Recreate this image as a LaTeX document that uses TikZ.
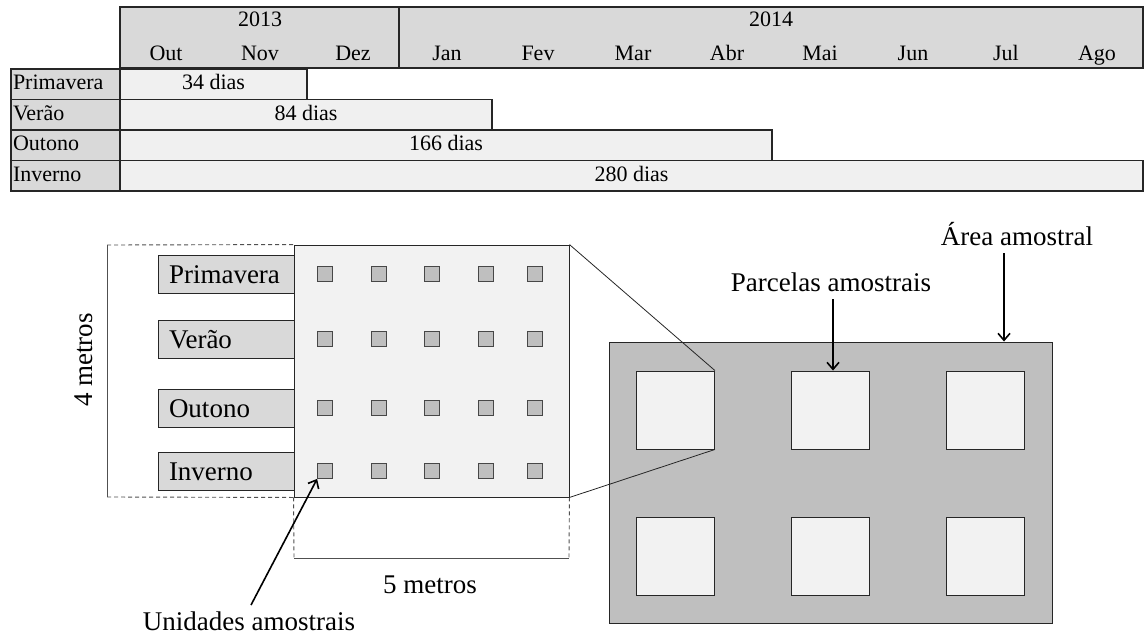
\documentclass[tikz,border=0pt]{standalone}
\usepackage{fontspec}
\setmainfont{Liberation Serif}
\usetikzlibrary{arrows.meta}
\definecolor{hdrgray}{HTML}{D9D9D9}
\definecolor{barfill}{HTML}{F0F0F0}
\definecolor{lightfill}{HTML}{F2F2F2}
\definecolor{midgray}{HTML}{BFBFBF}
\definecolor{linec}{HTML}{262626}
\definecolor{dashc}{HTML}{505050}
\newcommand\tblfnt{\fontsize{22}{26}\selectfont}
\newcommand\bigfnt{\fontsize{27}{32}\selectfont}
\begin{document}
\begin{tikzpicture}[x=1pt,y=-1pt,
  tline/.style={draw=linec,line width=1.3pt},
  hdrbox/.style={tline,fill=hdrgray,minimum width=1023pt,minimum height=61pt,inner sep=0pt},
  lblcell/.style={tline,fill=hdrgray,minimum width=109pt,minimum height=30.5pt,inner xsep=2pt,inner ysep=0pt,text width=105pt,align=left,font=\tblfnt,text height=14pt,text depth=3pt},
  barcell/.style={tline,fill=barfill,minimum height=30.5pt,inner sep=0pt,font=\tblfnt,text height=14pt,text depth=3pt},
  tcap/.style={font=\tblfnt,anchor=base,inner sep=0pt},
  seasonbox/.style={draw=linec,line width=0.9pt,fill=hdrgray,minimum width=136pt,minimum height=38pt,inner xsep=11pt,inner ysep=0pt,text width=114pt,align=left,font=\bigfnt,text height=18pt,text depth=0pt},
  zoombox/.style={draw=linec,line width=0.9pt,fill=lightfill,minimum width=275pt,minimum height=252pt,inner sep=0pt},
  unitsq/.style={draw=linec!85,line width=0.8pt,fill=midgray,minimum size=15pt,inner sep=0pt},
  areabox/.style={draw=linec,line width=0.9pt,fill=midgray,minimum width=443pt,minimum height=281pt,inner sep=0pt},
  plotsq/.style={draw=linec,line width=0.9pt,fill=lightfill,minimum width=78pt,minimum height=78pt,inner sep=0pt},
  bigtxt/.style={font=\bigfnt,anchor=base,inner sep=0pt},
  dashln/.style={draw=dashc,line width=0.9pt,dash pattern=on 4pt off 3pt},
  thinln/.style={draw=dashc,line width=0.9pt},
  zoomln/.style={draw=linec,line width=0.8pt},
  arr/.style={draw=black,line width=1.6pt,-{Straight Barb[length=7pt,width=12pt,line width=1.6pt]}}
]
\useasboundingbox (0,0) rectangle (1145,637);

% ---------- timeline table ----------
\node[hdrbox] (hdr) at (631.5,37.5) {};
\coordinate (ydivT) at (399,7);
\coordinate (ydivB) at (399,68);
\draw[tline] (ydivT) -- (ydivB);
\node[tcap] (y13) at (260,27) {2013};
\node[tcap] (y14) at (771,27) {2014};
\node[tcap] (mOut) at (166,60) {Out};
\node[tcap] (mNov) at (260,60) {Nov};
\node[tcap] (mDez) at (353,60) {Dez};
\node[tcap] (mJan) at (447,60) {Jan};
\node[tcap] (mFev) at (538,60) {Fev};
\node[tcap] (mMar) at (633,60) {Mar};
\node[tcap] (mAbr) at (727,60) {Abr};
\node[tcap] (mMai) at (820,60) {Mai};
\node[tcap] (mJun) at (913,60) {Jun};
\node[tcap] (mJul) at (1006,60) {Jul};
\node[tcap] (mAgo) at (1097,60) {Ago};

\node[lblcell] (lPri) at (65.5,84.25) {Primavera};
\node[barcell,minimum width=187pt] (bPri) at (213.5,84.25) {34 dias};
\node[lblcell] (lVer) at (65.5,114.75) {Verão};
\node[barcell,minimum width=372pt] (bVer) at (306,114.75) {84 dias};
\node[lblcell] (lOut) at (65.5,145.25) {Outono};
\node[barcell,minimum width=652pt] (bOut) at (446,145.25) {166 dias};
\node[lblcell] (lInv) at (65.5,175.75) {Inverno};
\node[barcell,minimum width=1023pt] (bInv) at (631.5,175.75) {280 dias};

% ---------- sampling scheme ----------
\node[seasonbox] (sPri) at (226,274) {Primavera};
\node[seasonbox] (sVer) at (226,339) {Verão};
\node[seasonbox] (sOut) at (226,408) {Outono};
\node[seasonbox] (sInv) at (226,471) {Inverno};
\node[zoombox] (zb) at (431.5,371) {};

\foreach \r/\yy in {1/274,2/339,3/408,4/471}{
  \foreach \c/\xx in {1/325,2/379,3/432,4/486,5/535}{
    \node[unitsq] (u\r\c) at (\xx,\yy) {};
  }
}

\coordinate (dTL) at (107,245);
\coordinate (dBL) at (107,497);
\draw[dashln] (dTL) -- (zb.north west);
\draw[dashln] (dBL) -- (zb.south west);
\draw[thinln] (dTL) -- (dBL);
\node[bigtxt,rotate=90,anchor=center] (m4) at (84,360) {4 metros};

\coordinate (bL) at (294,558);
\coordinate (bR) at (569,558);
\draw[dashln] (zb.south west) -- (bL);
\draw[dashln] (zb.south east) -- (bR);
\draw[thinln] (bL) -- (bR);
\node[bigtxt] (m5) at (430,593) {5 metros};

\node[areabox] (area) at (830.5,482.5) {};
\node[plotsq] (p11) at (675.5,410) {};
\node[plotsq] (p12) at (830.5,410) {};
\node[plotsq] (p13) at (985.5,410) {};
\node[plotsq] (p21) at (675.5,556) {};
\node[plotsq] (p22) at (830.5,556) {};
\node[plotsq] (p23) at (985.5,556) {};

\draw[zoomln] (zb.north east) -- (p11.north east);
\draw[zoomln] (zb.south east) -- (p11.south east);

\node[bigtxt] (ua) at (249,630) {Unidades amostrais};
\coordinate (uaS) at (251,605);
\draw[arr] (uaS) -- (u41.south west);

\node[bigtxt] (pa) at (831,291) {Parcelas amostrais};
\coordinate (paS) at (833,299);
\draw[arr] (paS) -- (paS |- p12.north);

\node[bigtxt] (aa) at (1017,245) {Área amostral};
\coordinate (aaS) at (1004,253);
\draw[arr] (aaS) -- (aaS |- area.north);
\end{tikzpicture}
\end{document}
